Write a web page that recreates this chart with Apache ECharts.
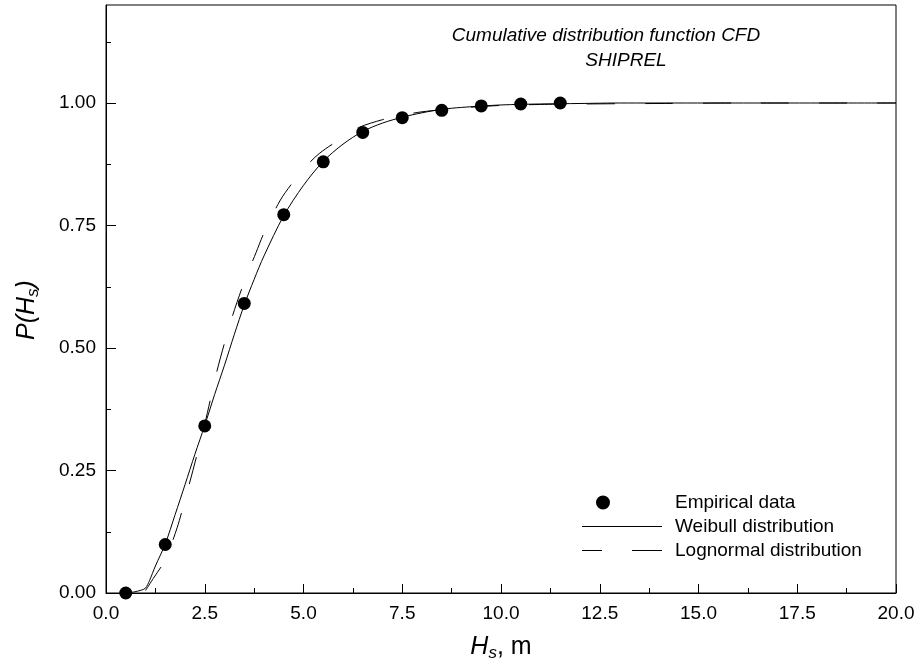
<!DOCTYPE html>
<html>
<head>
<meta charset="utf-8">
<script src="https://cdn.jsdelivr.net/npm/echarts@6/dist/echarts.min.js"></script>
<style>html,body{margin:0;padding:0;background:#fff}#c{width:919px;height:667px}</style>
</head>
<body>
<div id="c"></div>
<script>
// ---- data ----
const hsEmp = [0.5, 1.5, 2.5, 3.5, 4.5, 5.5, 6.5, 7.5, 8.5, 9.5, 10.5, 11.5];
const pEmp = [0.000, 0.099, 0.341, 0.591, 0.772, 0.880, 0.940, 0.970, 0.985, 0.994, 0.998, 1.000];

const hsWeibull = [0.5, 0.7, 0.9, 1.0, 1.1, 1.25, 1.5, 1.75, 2.0, 2.25, 2.5, 2.75, 3.0, 3.25, 3.5, 3.75, 4.0, 4.5, 5.0, 5.5, 6.0, 6.5, 7.0, 7.5, 8.0, 8.5, 9.0, 10.0, 11.0, 12.0, 13.0, 20.0];
const pWeibull = [0.000, 0.002, 0.006, 0.010, 0.025, 0.055, 0.100, 0.160, 0.221, 0.283, 0.342, 0.405, 0.465, 0.528, 0.588, 0.640, 0.688, 0.770, 0.832, 0.881, 0.916, 0.942, 0.959, 0.971, 0.980, 0.987, 0.991, 0.996, 0.998, 0.999, 1.000, 1.000];

const hsLognormal = [1.0, 1.2, 1.5, 1.8, 2.0, 2.2, 2.5, 2.8, 3.0, 3.2, 3.5, 3.8, 4.0, 4.4, 4.7, 5.0, 5.4, 6.0, 6.4, 7.0, 7.5, 8.0, 9.0, 10.0, 11.0, 12.0, 14.0, 16.0, 20.0];
const pLognormal = [0.005, 0.030, 0.068, 0.133, 0.190, 0.250, 0.345, 0.450, 0.510, 0.565, 0.635, 0.695, 0.735, 0.800, 0.835, 0.865, 0.897, 0.930, 0.950, 0.966, 0.975, 0.982, 0.990, 0.995, 0.997, 0.998, 0.999, 1.000, 1.000];

const xMajorTicks = [0, 2.5, 5, 7.5, 10, 12.5, 15, 17.5, 20];
const yMajorTicks = [0, 0.25, 0.5, 0.75, 1.0];
const yMinorTicks = [0.125, 0.375, 0.625, 0.875, 1.125];

const seriesNames = ['Empirical data', 'Weibull distribution', 'Lognormal distribution'];
const titleLines = ['Cumulative distribution function CFD', 'SHIPREL'];

const zip = (xs, ys) => xs.map((x, i) => [x, ys[i]]);
const FONT = 'Liberation Sans, Arial, sans-serif';
const FS = 19;
const NAME_FS = 25;

const chart = echarts.init(document.getElementById('c'), null, {renderer: 'canvas'});
chart.setOption({
  animation: false,
  backgroundColor: '#fff',
  grid: {left: 106, right: 23, top: 5, bottom: 71, show: true, borderColor: '#000', borderWidth: 1, backgroundColor: 'transparent'},
  title: [
    {text: titleLines[0], left: 606, top: 26, textAlign: 'center', padding: 0,
     textStyle: {fontFamily: FONT, fontSize: FS, fontStyle: 'italic', fontWeight: 'normal', color: '#000'}},
    {text: titleLines[1], left: 626, top: 51, textAlign: 'center', padding: 0,
     textStyle: {fontFamily: FONT, fontSize: FS, fontStyle: 'italic', fontWeight: 'normal', color: '#000'}}
  ],
  legend: {
    orient: 'vertical', left: 577, top: 488, itemWidth: 80, itemHeight: 15, itemGap: 5,
    symbolKeepAspect: true,
    textStyle: {fontFamily: FONT, fontSize: FS, color: '#000', padding: [0, 0, 0, 8]},
    data: [
      {name: seriesNames[0], icon: 'path://M14,7a7,7 0 1,0 14,0a7,7 0 1,0 -14,0zM0,0L0,0.01M80,14L80,13.99'},
      {name: seriesNames[1], icon: 'path://M0,0h80v1h-80z'},
      {name: seriesNames[2], icon: 'path://M0,0h20v1h-20zM50,0h30v1h-30z'}
    ]
  },
  xAxis: [{
    type: 'value', min: 0, max: 20, interval: 2.5,
    axisLine: {show: true, onZero: false, lineStyle: {color: '#000', width: 1}},
    axisTick: {show: true, inside: true, length: 9, customValues: xMajorTicks, lineStyle: {color: '#000'}},
    minorTick: {show: true, splitNumber: 2, length: 5, lineStyle: {color: '#000'}},
    splitLine: {show: false},
    axisLabel: {customValues: xMajorTicks, margin: 11, fontFamily: FONT, fontSize: FS, color: '#000', formatter: v => v.toFixed(1)},
    name: '{i|H}{s|s}{n|, m}', nameLocation: 'middle', nameGap: 40,
    nameTextStyle: {fontFamily: FONT, fontSize: NAME_FS, color: '#000',
      rich: {i: {fontFamily: FONT, fontSize: NAME_FS, fontStyle: 'italic', color: '#000'},
             s: {fontFamily: FONT, fontSize: 17, fontStyle: 'italic', color: '#000', padding: [12, 0, 0, 0]},
             n: {fontFamily: FONT, fontSize: NAME_FS, color: '#000'}}}
  }],
  yAxis: [{
    type: 'value', min: 0, max: 1.2, interval: 0.25,
    axisLine: {show: true, onZero: false, lineStyle: {color: '#000', width: 1}},
    axisTick: {show: true, inside: true, length: 10, customValues: yMajorTicks, lineStyle: {color: '#000'}},
    splitLine: {show: false},
    axisLabel: {customValues: yMajorTicks, margin: 10, fontFamily: FONT, fontSize: FS, color: '#000', formatter: v => v.toFixed(2)}
  }, {
    type: 'value', min: 0, max: 1.2, position: 'left',
    axisLine: {show: false},
    axisTick: {show: true, inside: true, length: 5, customValues: yMinorTicks, lineStyle: {color: '#000'}},
    splitLine: {show: false},
    axisLabel: {show: false}
  }],
  graphic: [{
    type: 'text', x: 27, y: 310, rotation: Math.PI / 2,
    style: {text: '{i|P(H}{s|s}{i|)}', align: 'center', verticalAlign: 'middle',
      rich: {i: {fontFamily: FONT, fontSize: NAME_FS, fontStyle: 'italic', fill: '#000'},
             s: {fontFamily: FONT, fontSize: 17, fontStyle: 'italic', fill: '#000', padding: [12, 0, 0, 0]}}}
  }],
  series: [
    {name: seriesNames[0], type: 'scatter', data: zip(hsEmp, pEmp), symbol: 'circle', symbolSize: 13,
     itemStyle: {color: '#000', opacity: 1}, z: 5},
    {name: seriesNames[1], type: 'line', data: zip(hsWeibull, pWeibull), smooth: 0.3, symbol: 'none', showSymbol: false,
     lineStyle: {color: '#000', width: 1}, itemStyle: {color: '#000'}},
    {name: seriesNames[2], type: 'line', data: zip(hsLognormal, pLognormal), smooth: 0.3, symbol: 'none', showSymbol: false,
     lineStyle: {color: '#000', width: 1, type: [28, 30]}, itemStyle: {color: '#000'}}
  ]
});
</script>
</body>
</html>
